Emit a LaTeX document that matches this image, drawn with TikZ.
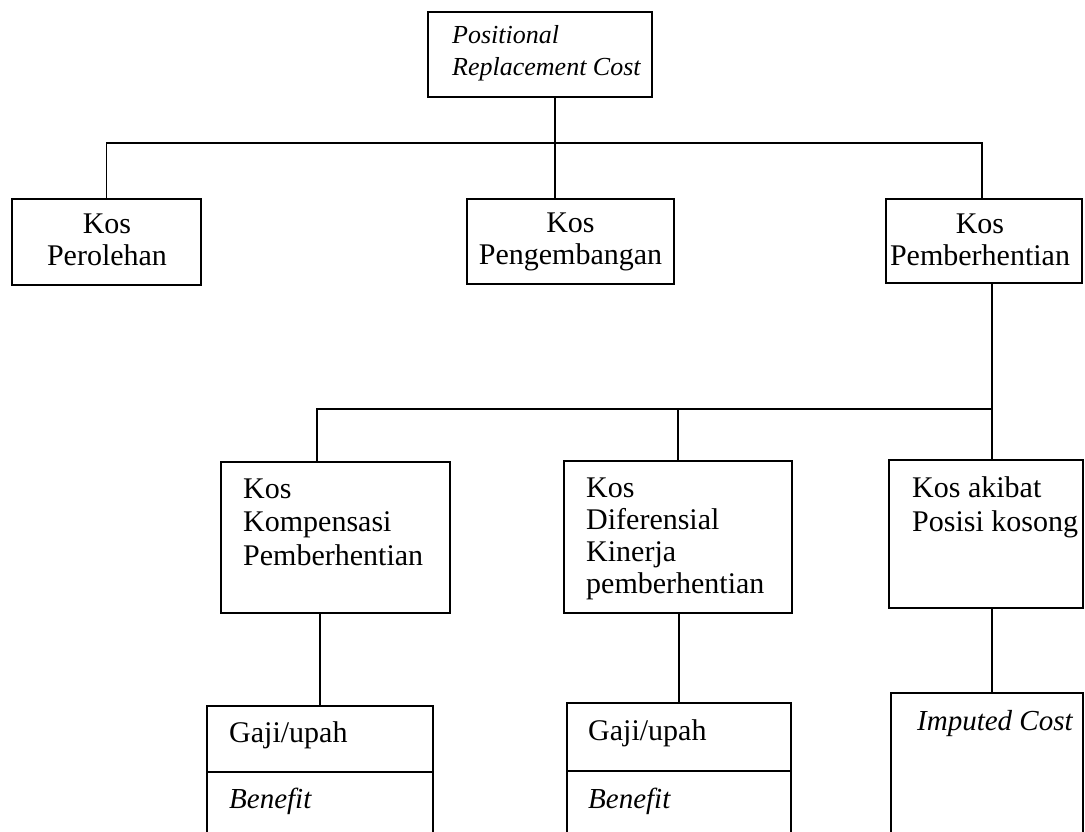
\documentclass[tikz,border=0pt]{standalone}
\usepackage{fontspec}
\setmainfont{Liberation Serif}
\begin{document}
\begin{tikzpicture}[x=1pt,y=-1pt,
  cbox/.style={draw, line width=2pt, inner sep=0pt, outer sep=0pt, anchor=north west},
  lbl/.style={inner sep=0pt, font=\fontsize{30}{33}\selectfont, align=left, anchor=base west},
  clbl/.style={inner sep=0pt, font=\fontsize{30}{32}\selectfont, align=center, anchor=base},
  itl/.style={inner sep=0pt, font=\itshape\fontsize{29}{33}\selectfont, anchor=base west},
  conn/.style={line width=1.8pt}]
\useasboundingbox (0,0) rectangle (1085,831);
\clip (0,0) rectangle (1085,831);
% boxes
\node[cbox, minimum width=224pt, minimum height=85pt] (top) at (428,12) {};
\node[cbox, minimum width=189pt, minimum height=86pt] (perol) at (12,199) {};
\node[cbox, minimum width=207pt, minimum height=85pt] (peng) at (467,199) {};
\node[cbox, minimum width=196pt, minimum height=84pt] (pember) at (886,199) {};
\node[cbox, minimum width=229pt, minimum height=151pt] (komp) at (221,462) {};
\node[cbox, minimum width=228pt, minimum height=152pt] (difer) at (564,461) {};
\node[cbox, minimum width=194pt, minimum height=148pt] (akibat) at (889,460) {};
\node[cbox, minimum width=226pt, minimum height=66pt] (gaji1) at (207,706) {};
\node[cbox, minimum width=226pt, minimum height=80pt] (ben1) at (207,772) {};
\node[cbox, minimum width=224pt, minimum height=68pt] (gaji2) at (567,703) {};
\node[cbox, minimum width=224pt, minimum height=80pt] (ben2) at (567,771) {};
\node[cbox, minimum width=192pt, minimum height=160pt] (imp) at (891,693) {};
% texts (base anchor = baseline of the last line)
\node[lbl, font=\itshape\fontsize{26}{32}\selectfont] (tTop) at (452,75) {Positional\\Replacement Cost};
\node[clbl] (tPerol) at (107,265) {Kos\\Perolehan};
\node[clbl] (tPeng) at (570.5,264) {Kos\\Pengembangan};
\node[clbl] (tPember) at (980,265) {Kos\\Pemberhentian};
\node[lbl, font=\fontsize{30}{33.5}\selectfont] (tKomp) at (243,565) {Kos\\Kompensasi\\Pemberhentian};
\node[lbl, font=\fontsize{30}{32}\selectfont] (tDifer) at (586,593) {Kos\\Diferensial\\Kinerja\\pemberhentian};
\node[lbl, font=\fontsize{30}{34}\selectfont] (tAkibat) at (912,531) {Kos akibat\\Posisi kosong};
\node[lbl] (tGaji1) at (229,742) {Gaji/upah};
\node[itl] (tBen1) at (229,808) {Benefit};
\node[lbl] (tGaji2) at (588,740) {Gaji/upah};
\node[itl] (tBen2) at (588,808) {Benefit};
\node[itl] (tImp) at (917,730) {Imputed Cost};
% connectors
\coordinate (b1) at (555,143);
\coordinate (b2) at (992,409);
\coordinate (c1) at (317,409);
\draw[conn] (top.south -| b1) -- (b1);
\draw[conn] (perol.north) |- (b1) -| ([xshift=-2pt]pember.north);
\draw[conn] (b1) -- (peng.north -| b1);
\draw[conn] (pember.south -| b2) -- (akibat.north -| b2);
\draw[conn] (komp.north -| c1) -- (c1) -- (b2);
\draw[conn] (difer.north) -- (difer.north |- b2);
\draw[conn] (komp.south -| gaji1.north) -- (gaji1.north);
\draw[conn] (difer.south -| gaji2.north) -- (gaji2.north);
\draw[conn] (akibat.south -| b2) -- (imp.north -| b2);
\end{tikzpicture}
\end{document}
